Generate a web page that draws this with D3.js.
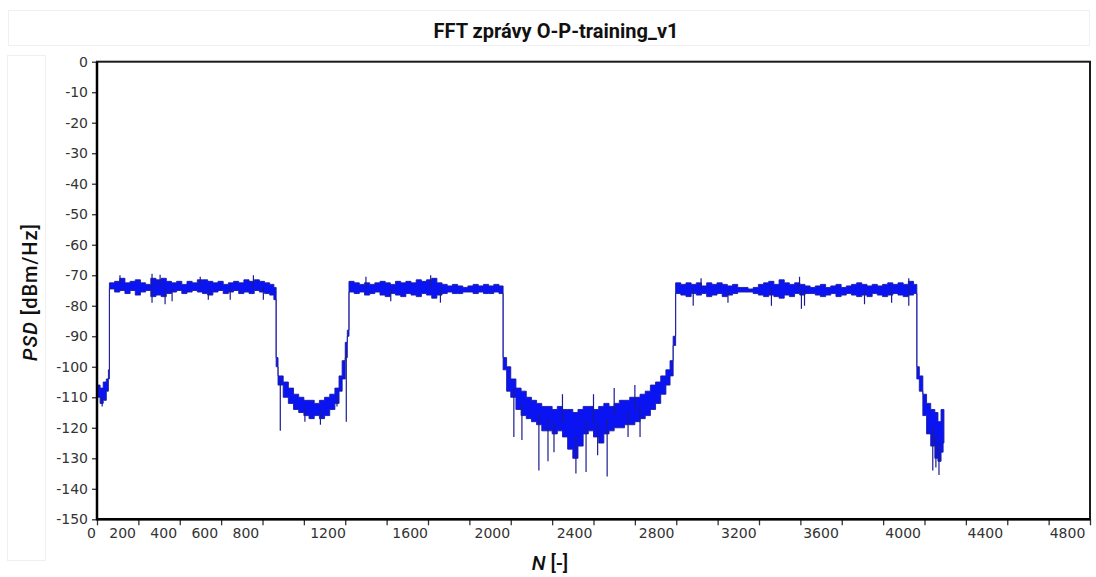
<!DOCTYPE html>
<html>
<head>
<meta charset="utf-8">
<script src="https://cdn.jsdelivr.net/npm/d3@7"></script>
<style>
  body { margin: 0; background: #fff; }
  svg text { font-family: "DejaVu Sans", sans-serif; }
</style>
</head>
<body>
<div id="chart"></div>
<script>
// FFT of the O-P-training_v1 message
// band envelope: bin N, upper and lower PSD edge (dBm/Hz)
const bins = [
  0, 15, 30, 45, 55,
  60, 85, 110, 135, 160, 185, 210, 235, 260, 285, 310, 335, 360, 385, 410, 435, 460, 485, 510, 535, 560, 585, 610, 635, 660, 685, 710, 735, 760, 785, 810, 835, 855,
  866, 875, 900, 925, 950, 975, 1000, 1025, 1050, 1075, 1100, 1125, 1150, 1170, 1185, 1200, 1210,
  1218, 1243, 1268, 1293, 1318, 1343, 1368, 1393, 1418, 1443, 1468, 1493, 1518, 1543, 1568, 1593, 1618, 1643, 1668, 1693, 1718, 1743, 1768, 1793, 1818, 1843, 1868, 1893, 1918, 1943,
  1963, 1980, 2000, 2025, 2050, 2075, 2100, 2125, 2150, 2175, 2200, 2225, 2250, 2275, 2300, 2325, 2350, 2375, 2400, 2425, 2450, 2475, 2500, 2525, 2550, 2575, 2600, 2625, 2650, 2675, 2700, 2725, 2750, 2770, 2785,
  2797, 2822, 2847, 2872, 2897, 2922, 2947, 2972, 2997, 3022, 3047, 3072, 3097, 3122, 3147, 3172, 3197, 3222, 3247, 3272, 3297, 3322, 3347, 3372, 3397, 3422, 3447, 3472, 3497, 3522, 3547, 3572, 3597, 3622, 3647, 3672, 3697, 3722, 3747, 3772, 3797, 3822, 3847, 3872, 3897, 3922, 3947,
  3963, 3975, 3992, 4010, 4030, 4050, 4065, 4080, 4090, 4094
]
const psdHi = [
  -106, -107, -105, -104, -101,
  -72.5, -72, -71, -72.5, -72, -71.5, -72.5, -73, -71, -71.5, -71, -72, -72.5, -72, -73, -72, -72.5, -71.5, -71.5, -72, -72.5, -72, -73, -72.5, -72, -72.5, -71.5, -72, -71.5, -72, -72.5, -73, -74,
  -97, -103, -105, -107, -109, -110, -111, -111, -112, -111, -110, -109, -107, -103, -98, -92, -88,
  -72, -72.5, -73, -72.5, -73, -72.5, -72, -72.5, -73, -72, -72.5, -72, -72.5, -71.5, -72, -71.5, -71, -72.5, -73, -73.5, -73, -73.5, -74, -73.5, -73, -73.5, -73, -73.5, -73, -73.5,
  -97, -100, -104, -107, -108, -110, -111, -112, -113, -113, -114, -113, -114, -114, -115, -114, -113, -113, -114, -113, -112, -113, -112, -111, -111, -110, -110, -109, -108, -106, -105, -103, -101, -98, -90,
  -72.5, -73, -72.5, -73, -72.5, -73.5, -72.5, -73, -72.5, -73, -73.5, -73, -74, -74, -74.5, -74, -73, -72.5, -72, -73, -71.5, -72.5, -73, -72.5, -73, -73.5, -74, -73.5, -73, -74, -73.5, -73, -74, -73.5, -73, -72.5, -73, -73.5, -73, -73.5, -73, -72.5, -73, -72.5, -73, -72, -73,
  -100, -103, -109, -112, -114, -115, -118, -114, -114, -114
]
const psdLo = [
  -110, -112, -111, -108, -104,
  -74.5, -75.5, -75, -76, -75, -76.5, -75.5, -75, -77, -76.5, -77, -76, -75.5, -75, -76, -75.5, -75, -75.5, -76, -76.5, -75.5, -75, -76, -75.5, -75, -76, -75.5, -76, -75, -75.5, -76, -76.5, -78,
  -100, -106, -110, -112, -114, -115, -116, -117, -116, -117, -116, -114, -112, -108, -104, -97, -90,
  -75.5, -76, -75.5, -76.5, -76, -75.5, -76.5, -77, -76, -76.5, -77, -76, -76.5, -77, -76, -76.5, -77.5, -76.5, -76, -75.5, -76, -76, -75.5, -75.5, -76, -75.5, -76, -76, -75.5, -76,
  -101, -108, -110, -114, -116, -117, -118, -119, -121, -121, -122, -121, -123, -127, -130, -126, -122, -121, -123, -125, -122, -121, -120, -120, -119, -119, -118, -117, -116, -114, -112, -109, -106, -103, -93,
  -76, -76.5, -77, -76, -76.5, -76, -77, -76.5, -76, -77, -76.5, -76, -75.5, -75.5, -75.5, -76, -76.5, -77, -76.5, -77, -77.5, -76.5, -77, -76, -76.5, -76, -76, -76.5, -77, -76.5, -76, -77, -76.5, -76, -76.5, -77, -76.5, -77, -76, -76.5, -77, -76.5, -76, -76.5, -77, -76.5, -76,
  -104, -108, -116, -122, -126, -130, -131, -128, -125, -125
]
// single-bin spikes sticking out of the band
const spikeBins = [25, 111, 266, 266, 305, 329, 363, 499, 538, 644, 756, 804,
  886, 1005, 1080, 1160, 1205,
  1300, 1420, 1613, 1660,
  2015, 2054, 2136, 2180, 2209, 2250, 2315, 2364, 2400, 2420, 2466, 2500, 2567, 2600, 2625,
  2882, 2920, 3050, 3260, 3396, 3405, 3420, 3710, 3841, 3924, 3924,
  4040, 4055, 4070]
const spikeVals = [-113, -70, -69.5, -79, -69.8, -79.5, -78.5, -70.5, -78, -78, -70, -78,
  -121, -118, -119, -113, -118,
  -70.5, -78.5, -70, -79,
  -123, -124, -134, -131, -128, -109, -135, -134.5, -109, -129, -136, -107, -123, -106, -123,
  -80, -71, -79, -80, -70.5, -81, -80, -79.5, -79, -80, -71,
  -134, -133, -135.5]

const xTicks = d3.range(0, 4801, 200)
const xLabels = [0, 200, 400, 600, 800, 1200, 1600, 2000, 2400, 2800, 3200, 3600, 4000, 4400, 4800]
const yTicks = [0, -10, -20, -30, -40, -50, -60, -70, -80, -90, -100, -110, -120, -130, -140, -150]

const w = 1096
const h = 577
const pl = 97, pr = 1090, pt = 61.7, pb = 519.3

const svg = d3.select("#chart").append("svg")
  .attr("width", w)
  .attr("height", h)

// faint panels of the original window
svg.append("rect").attr("x", 8.5).attr("y", 10.5).attr("width", 1081).attr("height", 35)
  .attr("fill", "#fff").attr("stroke", "#eef0f4")
svg.append("rect").attr("x", 7.5).attr("y", 55.5).attr("width", 38).attr("height", 505)
  .attr("fill", "#fff").attr("stroke", "#f0f0f0")

svg.append("text")
  .attr("x", 556).attr("y", 38)
  .attr("text-anchor", "middle")
  .style("font-family", "Roboto, sans-serif")
  .style("font-weight", "bold")
  .style("font-size", "20px")
  .attr("fill", "#111")
  .text("FFT zprávy O-P-training_v1")

const x = d3.scaleLinear().domain([0, 4800]).range([pl, pr])
const y = d3.scaleLinear().domain([-150, 0]).range([pb, pt])

// axes
const xAxis = d3.axisBottom(x)
  .tickValues(xTicks)
  .tickSize(6)
  .tickPadding(3)
  .tickFormat(d => xLabels.includes(d) ? d : "")

const gx = svg.append("g")
  .attr("transform", "translate(0," + pb + ")")
  .call(xAxis)
gx.select(".domain").remove()
gx.selectAll("line").attr("stroke", "#333").attr("stroke-width", 1.3)
gx.selectAll("text")
  .attr("dx", d => d === 0 ? -6 : -16 - d / 4800 * 7)
  .attr("fill", "#333")
  .style("font-size", "14px")

const yAxis = d3.axisLeft(y)
  .tickValues(yTicks)
  .tickSize(5)
  .tickPadding(4)
  .tickFormat(d => String(d))

const gy = svg.append("g")
  .attr("transform", "translate(" + pl + ",0)")
  .call(yAxis)
gy.select(".domain").remove()
gy.selectAll("line").attr("stroke", "#333").attr("stroke-width", 1.3)
gy.selectAll("text").attr("fill", "#333").style("font-size", "14px")

// the signal band
const idx = d3.range(bins.length)
const band = d3.area()
  .x(i => x(bins[i]))
  .y0(i => y(psdLo[i]))
  .y1(i => y(psdHi[i]))
  .curve(d3.curveStepAfter)

svg.append("path")
  .datum(idx)
  .attr("d", band)
  .attr("fill", "#0a14f2")
  .attr("stroke", "#1c1ca4")
  .attr("stroke-width", 0.9)

// spikes start from the middle of the band at that bin
svg.append("g")
  .selectAll("line")
  .data(spikeBins.map((n, k) => [n, spikeVals[k]]))
  .enter()
  .append("line")
  .attr("x1", d => x(d[0]))
  .attr("x2", d => x(d[0]))
  .attr("y1", d => {
    const i = Math.max(0, d3.bisectRight(bins, d[0]) - 1)
    return y((psdHi[i] + psdLo[i]) / 2)
  })
  .attr("y2", d => y(d[1]))
  .attr("stroke", "#1c1c90")
  .attr("stroke-width", 1.2)

// frame
svg.append("rect")
  .attr("x", pl).attr("y", pt)
  .attr("width", pr - pl).attr("height", pb - pt)
  .attr("fill", "none")
  .attr("stroke", "#1a1a1a")
  .attr("stroke-width", 2)
svg.append("line").attr("x1", pl).attr("x2", pl).attr("y1", pt).attr("y2", pb + 1)
  .attr("stroke", "#000").attr("stroke-width", 2.5)
svg.append("line").attr("x1", pl).attr("x2", pr).attr("y1", pb).attr("y2", pb)
  .attr("stroke", "#000").attr("stroke-width", 2.5)

// axis titles
const yt = svg.append("text")
  .attr("transform", "translate(37," + 292 + ") rotate(-90)")
  .attr("text-anchor", "middle")
  .style("font-family", "Roboto, sans-serif")
  .style("font-size", "20px")
  .style("font-weight", 500)
  .style("letter-spacing", "1px")
  .attr("fill", "#111")
yt.append("tspan").style("font-style", "italic").text("PSD")
yt.append("tspan").text(" [dBm/Hz]")

const xt = svg.append("text")
  .attr("x", 550).attr("y", 570)
  .attr("text-anchor", "middle")
  .style("font-family", "Roboto, sans-serif")
  .style("font-size", "20px")
  .style("font-weight", 500)
  .attr("fill", "#111")
xt.append("tspan").style("font-style", "italic").text("N")
xt.append("tspan").text(" [-]")
</script>
</body>
</html>
